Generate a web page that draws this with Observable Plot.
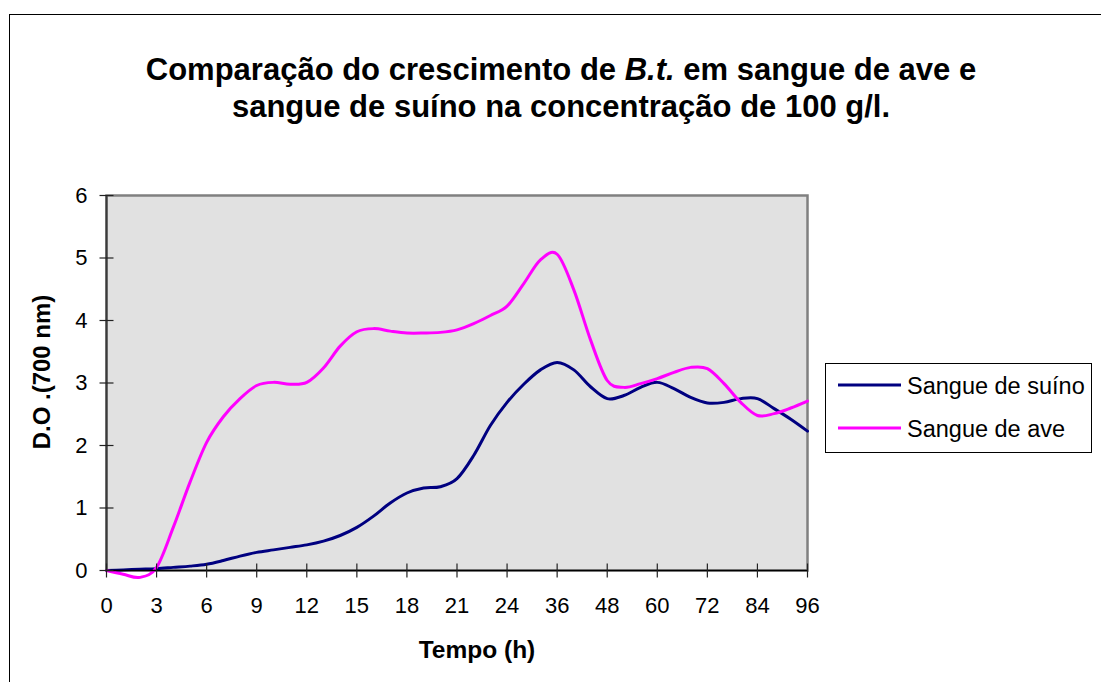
<!DOCTYPE html>
<html>
<head>
<meta charset="utf-8">
<script src="https://cdn.jsdelivr.net/npm/d3@7"></script>
<script src="https://cdn.jsdelivr.net/npm/@observablehq/plot@0.6"></script>
<style>
  body { margin: 0; background: #fff; }
  #wrap { position: relative; width: 1101px; height: 682px; overflow: hidden; background: #fff;
          font-family: "Liberation Sans", Arial, sans-serif; color: #000; }
  .abs { position: absolute; }
</style>
</head>
<body>
<div id="wrap">
  <div class="abs" style="left:9px;top:14px;width:1200px;height:800px;border:1.5px solid #000;"></div>
  <div id="chart" class="abs" style="left:0;top:0;"></div>
  <div id="title" class="abs" style="left:0;top:51px;width:1122px;text-align:center;font-size:31px;font-weight:bold;line-height:37px;"></div>
  <div id="ytitle" class="abs" style="left:-58px;top:359px;width:200px;height:26px;line-height:26px;text-align:center;font-size:24px;font-weight:bold;transform:rotate(-90deg);transform-origin:50% 50%;"></div>
  <div id="xtitle" class="abs" style="left:377px;top:637px;width:200px;line-height:26px;text-align:center;font-size:24.5px;font-weight:bold;"></div>
  <div id="legend" class="abs" style="left:825px;top:363px;width:267px;height:90px;box-sizing:border-box;border:1px solid #000;background:#fff;"></div>
</div>
<script>
// ---- data ----
const hours = [0,1,2,3,4,5,6,7,8,9,10,11,12,13,14,15,16,17,18,19,20,21,22,23,24,
               28,32,36,40,44,48,52,56,60,64,68,72,76,80,84,88,92,96];
const suino = [0,0.01,0.02,0.03,0.05,0.07,0.10,0.16,0.23,0.29,0.33,0.37,0.41,
               0.47,0.56,0.69,0.87,1.08,1.24,1.32,1.34,1.47,1.84,2.32,2.69,2.98,3.21,3.33,
               3.21,2.94,2.75,2.80,2.93,3.01,2.91,2.77,2.68,2.69,2.75,2.75,2.59,2.42,2.23];
const ave   = [0,-0.06,-0.11,0.05,0.69,1.41,2.05,2.46,2.75,2.96,3.01,2.98,3.01,
               3.24,3.59,3.82,3.87,3.83,3.80,3.80,3.81,3.85,3.95,4.08,4.23,4.59,4.97,5.06,
               4.49,3.69,3.04,2.93,2.99,3.07,3.17,3.25,3.23,2.99,2.69,2.48,2.51,2.60,2.71];
const seriesNames = ["Sangue de suíno", "Sangue de ave"];
const seriesColors = ["#000080", "#ff00ff"];
const yTicks = [0,1,2,3,4,5,6];
const xTickIdx = hours.map((h, i) => i).filter(i => i % 3 === 0);
const titleLine1 = 'Comparação do crescimento de <i>B.t.</i> em sangue de ave e';
const titleLine2 = 'sangue de suíno na concentração de 100 g/l.';
const xLabel = "Tempo (h)";
const yLabel = "D.O .(700 nm)";

// ---- table ----
const rowsSuino = hours.map((h, i) => ({i, h, v: suino[i]}));
const rowsAve = hours.map((h, i) => ({i, h, v: ave[i]}));

const vtick = {draw(ctx) { ctx.moveTo(0, -7); ctx.lineTo(0, 7); }};
const htick = {draw(ctx) { ctx.moveTo(-7, 0); ctx.lineTo(7, 0); }};

const chart = Plot.plot({
  width: 1101,
  height: 682,
  marginLeft: 106,
  marginRight: 294,
  marginTop: 195,
  marginBottom: 112,
  style: {fontSize: "22px", fontFamily: "'Liberation Sans', Arial, sans-serif", background: "transparent", color: "#000"},
  x: {type: "linear", domain: [0, hours.length - 1], axis: null},
  y: {domain: [0, 6], axis: null},
  marks: [
    Plot.frame({fill: "#e1e1e1", stroke: "#808080", strokeWidth: 2.5}),
    Plot.axisX({ticks: xTickIdx, tickFormat: i => String(hours[i]), tickSize: 0, tickPadding: 27, label: null, fontSize: 22}),
    Plot.axisY({ticks: yTicks, tickFormat: d => String(d), tickSize: 0, tickPadding: 19, label: null, fontSize: 22}),
    Plot.line(rowsSuino, {x: "i", y: "v", stroke: seriesColors[0], strokeWidth: 3, curve: "cardinal"}),
    Plot.line(rowsAve, {x: "i", y: "v", stroke: seriesColors[1], strokeWidth: 3, curve: "cardinal"}),
    Plot.ruleX([0], {stroke: "#3a3a3a", strokeWidth: 2}),
    Plot.ruleY([0], {stroke: "#000", strokeWidth: 1.5}),
    Plot.dot(xTickIdx, {x: d => d, y: d => 0, symbol: vtick, stroke: "#222", fill: "none", strokeWidth: 1.2}),
    Plot.dot(yTicks, {x: d => 0, y: d => d, symbol: htick, stroke: "#222", fill: "none", strokeWidth: 1.2})
  ]
});
document.getElementById("chart").appendChild(chart);

document.getElementById("title").innerHTML = titleLine1 + "<br>" + titleLine2;
document.getElementById("xtitle").textContent = xLabel;
document.getElementById("ytitle").textContent = yLabel;

// legend
const legend = document.getElementById("legend");
const legendY = [21, 64];
seriesNames.forEach((name, k) => {
  const sw = document.createElementNS("http://www.w3.org/2000/svg", "svg");
  sw.setAttribute("width", 64); sw.setAttribute("height", 6);
  sw.style.position = "absolute"; sw.style.left = "12px"; sw.style.top = (legendY[k] - 3) + "px";
  const ln = document.createElementNS("http://www.w3.org/2000/svg", "line");
  ln.setAttribute("x1", 0); ln.setAttribute("x2", 63); ln.setAttribute("y1", 3); ln.setAttribute("y2", 3);
  ln.setAttribute("stroke", seriesColors[k]); ln.setAttribute("stroke-width", 3);
  sw.appendChild(ln);
  legend.appendChild(sw);
  const t = document.createElement("div");
  t.textContent = name;
  t.style.cssText = "position:absolute;left:81px;font-size:23.5px;line-height:26px;white-space:nowrap;top:" + (legendY[k] - 12) + "px";
  legend.appendChild(t);
});
</script>
</body>
</html>
